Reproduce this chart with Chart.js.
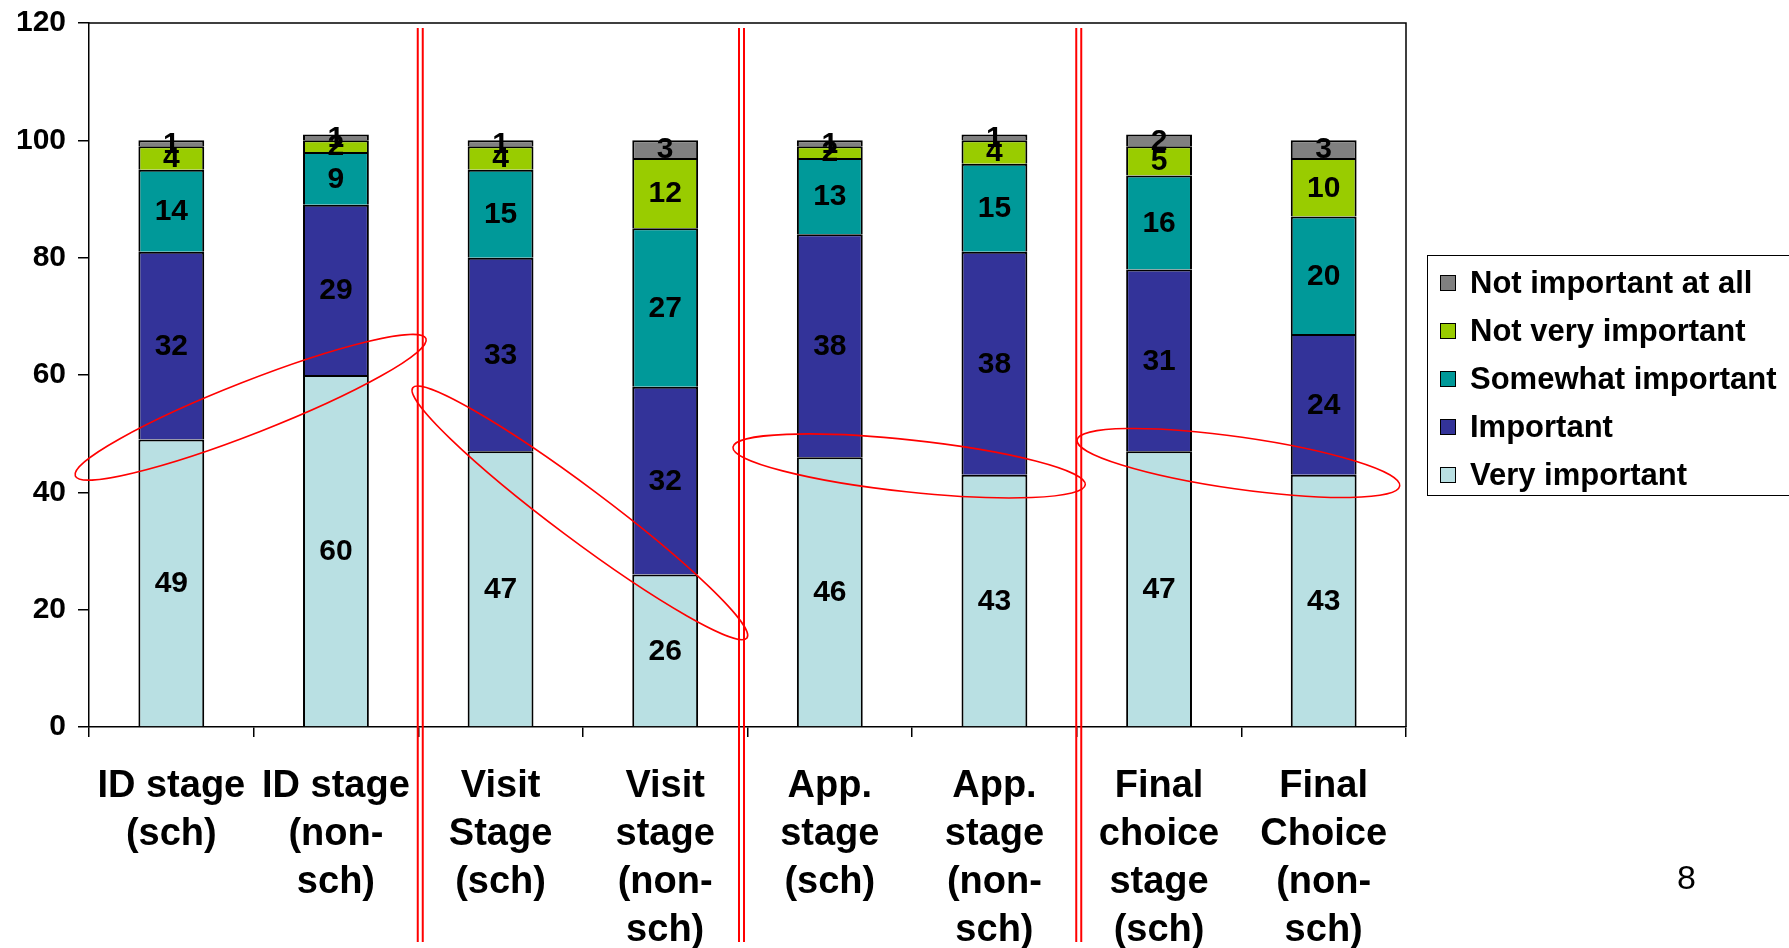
<!DOCTYPE html>
<html>
<head>
<meta charset="utf-8">
<script src="https://cdn.jsdelivr.net/npm/chart.js@4.4.1/dist/chart.umd.min.js"></script>
<style>
  html, body { margin: 0; padding: 0; background: #fff; overflow: hidden; }
  #wrap { position: relative; width: 1789px; height: 948px; }
  #c { position: absolute; left: 0; top: 0; }
  #legend {
    position: absolute; left: 1427px; top: 255px; width: 400px; height: 241px;
    border: 1.5px solid #000; box-sizing: border-box; padding-top: 3px;
    font-family: "Liberation Sans", Arial, sans-serif; font-weight: bold; font-size: 31px;
  }
  #legend .row { height: 48px; display: flex; align-items: center; }
  #legend .sw { width: 14px; height: 14px; border: 1.5px solid #000; margin-left: 12px; margin-right: 14px; }
  #slide { position: absolute; left: 1677px; top: 858px; font-family: "Liberation Sans", Arial, sans-serif; font-size: 34px; }
</style>
</head>
<body>
<div id="wrap">
  <canvas id="c" width="1789" height="948"></canvas>
  <div id="legend"></div>
  <div id="slide">8</div>
</div>
<script>
// chart values
const categories = [
  ['ID stage', '(sch)'],
  ['ID stage', '(non-', 'sch)'],
  ['Visit', 'Stage', '(sch)'],
  ['Visit', 'stage', '(non-', 'sch)'],
  ['App.', 'stage', '(sch)'],
  ['App.', 'stage', '(non-', 'sch)'],
  ['Final', 'choice', 'stage', '(sch)'],
  ['Final', 'Choice', '(non-', 'sch)']
];
const veryImportant     = [49, 60, 47, 26, 46, 43, 47, 43];
const important         = [32, 29, 33, 32, 38, 38, 31, 24];
const somewhatImportant = [14, 9, 15, 27, 13, 15, 16, 20];
const notVeryImportant  = [4, 2, 4, 12, 2, 4, 5, 10];
const notImportantAtAll = [1, 1, 1, 3, 1, 1, 2, 3];
const yTicks = [0, 20, 40, 60, 80, 100, 120];

// red hand-drawn marks: pairs circled, separators after these categories
const circledPairs = [[0, 1], [2, 3], [4, 5], [6, 7]];
const ellipseStretch = [2.13, 2.03, 2.14, 1.96];
const separatorsAfter = [1, 3, 5];
const separatorShift = [2, -6, 2];

const FONT = '"Liberation Sans", Arial, sans-serif';

const series = [
  { label: 'Very important', data: veryImportant, color: '#B9E0E3' },
  { label: 'Important', data: important, color: '#333399' },
  { label: 'Somewhat important', data: somewhatImportant, color: '#009999' },
  { label: 'Not very important', data: notVeryImportant, color: '#99CC00' },
  { label: 'Not important at all', data: notImportantAtAll, color: '#808080' }
];

// legend, top to bottom in reverse stacking order
const legend = document.getElementById('legend');
legend.innerHTML = series.slice().reverse().map(s => `
  <div class="row"><div class="sw" style="background:${s.color}"></div><span>${s.label}</span></div>
`).join('');

const valueLabels = {
  id: 'valueLabels',
  afterDatasetsDraw(chart) {
    const ctx = chart.ctx;
    ctx.save();
    ctx.font = 'bold 30px ' + FONT;
    ctx.fillStyle = '#000';
    ctx.textAlign = 'center';
    ctx.textBaseline = 'middle';
    chart.data.datasets.forEach((ds, di) => {
      chart.getDatasetMeta(di).data.forEach((el, i) => {
        ctx.fillText(String(ds.data[i]), el.x, (el.y + el.base) / 2 + 1);
      });
    });
    ctx.restore();
  }
};

const plotFrame = {
  id: 'plotFrame',
  beforeDatasetsDraw(chart) {
    const a = chart.chartArea, ctx = chart.ctx;
    ctx.save();
    ctx.strokeStyle = '#000';
    ctx.lineWidth = 1.5;
    ctx.beginPath();
    ctx.moveTo(a.left, a.top);
    ctx.lineTo(a.right, a.top);
    ctx.lineTo(a.right, a.bottom);
    ctx.stroke();
    ctx.restore();
  }
};

const redMarks = {
  id: 'redMarks',
  afterDraw(chart) {
    const ctx = chart.ctx, x = chart.scales.x, a = chart.chartArea;
    const meta = chart.getDatasetMeta(0);
    ctx.save();
    ctx.strokeStyle = '#FF0000';

    // double separators
    ctx.lineWidth = 2;
    separatorsAfter.forEach((i, k) => {
      const px = (x.getPixelForValue(i) + x.getPixelForValue(i + 1)) / 2 + separatorShift[k];
      [-2.5, 2.5].forEach(off => {
        ctx.beginPath();
        ctx.moveTo(px + off, a.top + 5);
        ctx.lineTo(px + off, chart.height - 6);
        ctx.stroke();
      });
    });

    // ellipses round the tops of "Very important"
    ctx.lineWidth = 1.6;
    circledPairs.forEach(([i, j], k) => {
      const p = meta.data[i], q = meta.data[j];
      const cx = (p.x + q.x) / 2 - 3, cy = (p.y + q.y) / 2;
      const dx = q.x - p.x, dy = q.y - p.y;
      const half = Math.sqrt(dx * dx + dy * dy) / 2;
      ctx.beginPath();
      ctx.ellipse(cx, cy, half * ellipseStretch[k], 26, Math.atan2(dy, dx), 0, Math.PI * 2);
      ctx.stroke();
    });
    ctx.restore();
  }
};

new Chart(document.getElementById('c'), {
  type: 'bar',
  data: {
    labels: categories,
    datasets: series.map(s => ({
      label: s.label,
      data: s.data,
      backgroundColor: s.color,
      borderColor: '#000',
      borderWidth: 2,
      barPercentage: 0.4,
      categoryPercentage: 1
    }))
  },
  options: {
    responsive: false,
    animation: false,
    layout: { padding: { top: 23, right: 383, left: 0, bottom: 0 } },
    plugins: { legend: { display: false }, tooltip: { enabled: false } },
    scales: {
      x: {
        stacked: true,
        grid: { drawOnChartArea: false, drawTicks: true, tickLength: 10, color: '#000', lineWidth: 1.5 },
        border: { color: '#000', width: 1.5 },
        ticks: {
          color: '#000', padding: 26, autoSkip: false, maxRotation: 0, minRotation: 0,
          font: { family: FONT, size: 38, weight: 'bold', lineHeight: 48 / 38 }
        },
        afterFit(s) { s.height = 221; }
      },
      y: {
        stacked: true,
        min: 0,
        max: 120,
        afterBuildTicks(s) { s.ticks = yTicks.map(v => ({ value: v })); },
        grid: { drawOnChartArea: false, drawTicks: true, tickLength: 11, color: '#000', lineWidth: 1.5 },
        border: { color: '#000', width: 1.5 },
        ticks: {
          color: '#000', padding: 12,
          font: { family: FONT, size: 30, weight: 'bold' }
        },
        afterFit(s) { s.width = 89; s.paddingTop = 0; s.paddingBottom = 0; }
      }
    }
  },
  plugins: [plotFrame, valueLabels, redMarks]
});
</script>
</body>
</html>
